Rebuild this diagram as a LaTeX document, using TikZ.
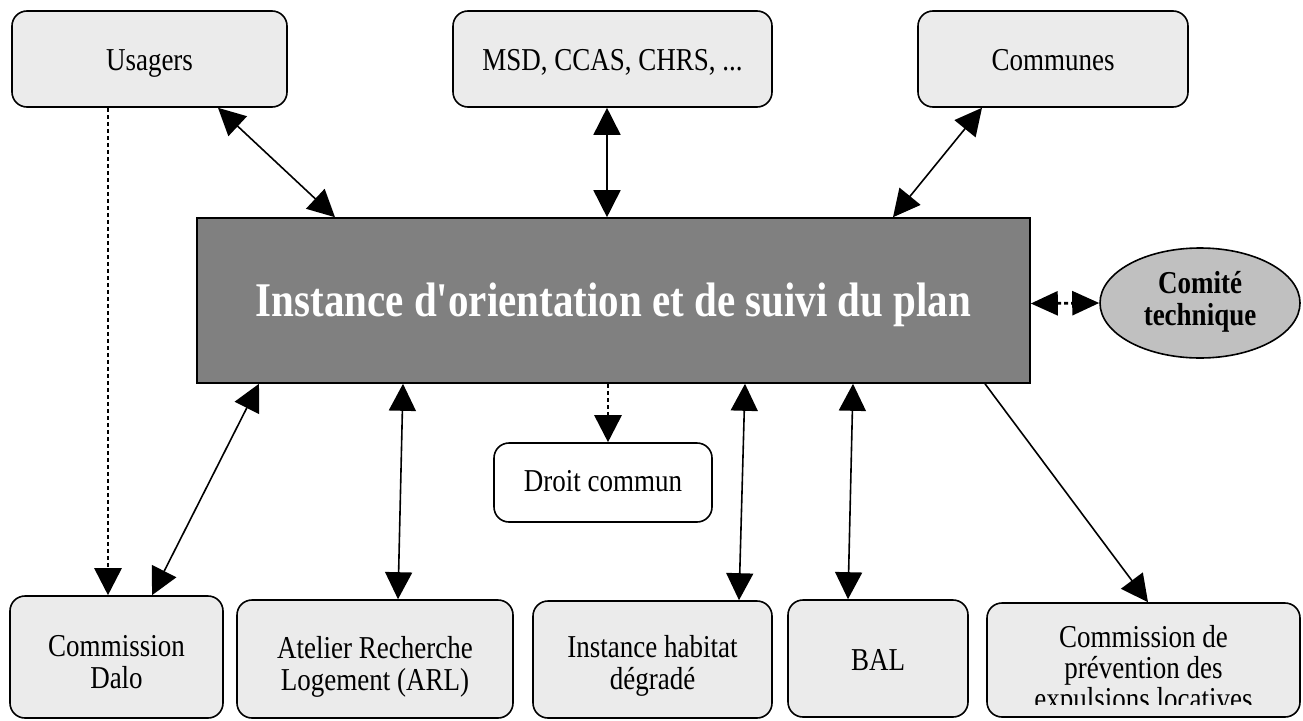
\documentclass[tikz,border=0pt]{standalone}
\usepackage{fontspec}
\setmainfont{Liberation Serif}
\usetikzlibrary{arrows.meta,shapes.geometric}
\definecolor{boxfill}{HTML}{EBEBEB}
\definecolor{mainfill}{HTML}{808080}
\definecolor{ellfill}{HTML}{C0C0C0}
% #1 = extra empty height above the label (twice the downward shift)
\newcommand{\lbl}[2][0pt]{\raisebox{0pt}[\dimexpr\height+#1\relax][\depth]{\scalebox{1}[1.18]{\begin{tabular}{@{}c@{}}#2\end{tabular}}}}
\tikzset{
  box/.style={draw=black, line width=1.6pt, fill=boxfill, rounded corners=15pt,
    inner sep=0pt, font=\fontsize{27}{27}\selectfont},
  wbox/.style={box, fill=white},
  mainbox/.style={draw=black, line width=1.6pt, fill=mainfill, inner sep=0pt,
    text=white, font=\fontsize{41}{44}\selectfont\bfseries},
  ell/.style={ellipse, draw=black, line width=1.6pt, fill=ellfill, inner sep=0pt,
    font=\fontsize{27}{25.5}\selectfont\bfseries},
  tip/.style={>={Triangle[length=27pt,width=27pt]}},
  biarrow/.style={tip, <->, line width=1.6pt},
  onearrow/.style={tip, ->, line width=1.6pt},
  dotarrow/.style={tip, ->, line width=2.8pt, dash pattern=on 4pt off 3pt},
  dotbiarrow/.style={>={Triangle[length=27pt,width=24pt]}, <->, line width=2.8pt, dash pattern=on 4pt off 3pt},
}
\begin{document}
\begin{tikzpicture}[x=1pt,y=-1pt]
\useasboundingbox (0,0) rectangle (1303,720);
% top row
\node[box, minimum width=275pt, minimum height=96pt] (usagers) at (149.5,59) {\lbl[10pt]{Usagers}};
\node[box, minimum width=319pt, minimum height=96pt] (msd) at (612.5,59) {\lbl[10pt]{MSD, CCAS, CHRS, ...}};
\node[box, minimum width=270pt, minimum height=96pt] (communes) at (1053,59) {\lbl[10pt]{Communes}};
% main
\node[mainbox, minimum width=833pt, minimum height=165pt] (main) at (613.5,300.5) {\lbl[12pt]{Instance d\textquotesingle orientation et de suivi du plan}};
\node[ell, minimum width=200pt, minimum height=110pt] (comite) at (1200,303) {\lbl{Comité\\technique}};
% droit commun
\node[wbox, minimum width=218pt, minimum height=79pt] (droit) at (603,482.5) {\lbl[6pt]{Droit commun}};
% bottom row
\node[box, minimum width=213pt, minimum height=122pt] (dalo) at (116.5,657) {\lbl[18pt]{Commission\\Dalo}};
\node[box, minimum width=276pt, minimum height=118pt] (arl) at (375,659) {\lbl[18pt]{Atelier Recherche\\Logement (ARL)}};
\node[box, minimum width=239pt, minimum height=117pt] (ihd) at (652.5,659.5) {\lbl[16pt]{Instance habitat\\dégradé}};
\node[box, minimum width=180pt, minimum height=117pt] (bal) at (878,658.5) {\lbl[12pt]{BAL}};
\node[box, minimum width=313pt, minimum height=114pt] (cpe) at (1143.5,660) {};
\begin{scope}
  \clip (988,604) rectangle (1299,704);
  \node[inner sep=0pt, font=\fontsize{27}{25}\selectfont] (cpetext) at (1143.5,672) {\lbl{Commission de\\prévention des\\expulsions locatives}};
\end{scope}
% connectors
\draw[biarrow] ([xshift=68.5pt]usagers.south) -- ([xshift=-278.5pt]main.north);
\draw[biarrow] ([xshift=-5.5pt]msd.south) -- ([xshift=-6.5pt]main.north);
\draw[biarrow] ([xshift=-71pt]communes.south) -- ([xshift=279.5pt]main.north);
\draw[dotarrow] ([xshift=-41.5pt]usagers.south) -- ([xshift=-8.5pt]dalo.north);
\draw[biarrow] ([xshift=-354.5pt]main.south) -- ([xshift=35.5pt]dalo.north);
\draw[biarrow] ([xshift=-210.5pt]main.south) -- ([xshift=23pt]arl.north);
\draw[dotarrow] ([xshift=-5.5pt]main.south) -- ([xshift=5pt]droit.north);
\draw[biarrow] ([xshift=131.5pt]main.south) -- ([xshift=86.5pt]ihd.north);
\draw[biarrow] ([xshift=239.5pt]main.south) -- ([xshift=-30pt]bal.north);
\draw[onearrow] ([xshift=371.5pt]main.south) -- ([xshift=4.5pt]cpe.north);
\draw[dotbiarrow] ([yshift=-3pt]main.east) -- (comite.west);
\end{tikzpicture}
\end{document}
